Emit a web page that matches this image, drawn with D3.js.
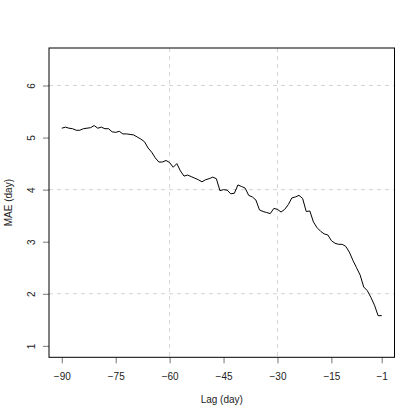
<!DOCTYPE html>
<html><head><meta charset="utf-8">
<script src="https://cdn.jsdelivr.net/npm/d3@7"></script>
<style>body{margin:0;background:#fff}svg{display:block}text{font-family:"Liberation Sans",Arial,sans-serif}</style>
</head><body><svg id="c" width="419" height="419"></svg>
<script>
const lags = d3.range(-90, 0);
const mae = [5.18,5.20,5.18,5.17,5.14,5.14,5.17,5.18,5.19,5.23,
5.18,5.20,5.17,5.17,5.11,5.10,5.12,5.07,5.07,5.06,
5.05,5.01,4.97,4.92,4.80,4.72,4.61,4.53,4.53,4.56,
4.52,4.43,4.50,4.36,4.26,4.28,4.25,4.22,4.19,4.15,
4.19,4.21,4.24,4.21,3.98,4.00,3.99,3.92,3.93,4.09,
4.06,4.03,3.89,3.86,3.80,3.61,3.58,3.56,3.54,3.64,
3.62,3.57,3.62,3.71,3.84,3.86,3.89,3.83,3.58,3.59,
3.38,3.27,3.20,3.15,3.13,3.02,2.97,2.95,2.95,2.91,
2.80,2.64,2.50,2.36,2.13,2.06,1.93,1.78,1.58,1.58];
const xTicks = [-90,-75,-60,-45,-30,-15,-1];
const yTicks = [1,2,3,4,5,6];
const xGrid = [-60,-30];
const yGrid = [2,4,6];
const xLabel = "Lag (day)", yLabel = "MAE (day)";

const L=49, R=394.5, T=48, B=357.3;
const x = d3.scaleLinear().domain([-90-89*0.04, -1+89*0.04]).range([L,R]);
const y = d3.scaleLinear().domain([1-5.5*0.04, 6.5+5.5*0.04]).range([B,T]);
const svg = d3.select("#c");

svg.append("g").selectAll("line").data(xGrid).join("line")
  .attr("x1",d=>x(d)).attr("x2",d=>x(d)).attr("y1",T).attr("y2",B)
  .attr("stroke","#d3d3d3").attr("stroke-dasharray","4,4");
svg.append("g").selectAll("line").data(yGrid).join("line")
  .attr("y1",d=>y(d)).attr("y2",d=>y(d)).attr("x1",L).attr("x2",R)
  .attr("stroke","#d3d3d3").attr("stroke-dasharray","4,4");

const fmt = d => String(d).replace("-", "\u2212");
const xa = d3.axisBottom(x).tickValues(xTicks).tickSize(6).tickPadding(10).tickFormat(fmt);
const gx = svg.append("g").attr("transform",`translate(0,${B})`).call(xa);
gx.select(".domain").remove();
gx.selectAll(".tick line").attr("stroke","#777");
gx.selectAll("text").attr("font-size",10).attr("fill","#222").attr("font-family","Liberation Sans, Arial, sans-serif");

const ya = d3.axisLeft(y).tickValues(yTicks).tickSize(6).tickFormat(d3.format("d"));
const gy = svg.append("g").attr("transform",`translate(${L},0)`).call(ya);
gy.select(".domain").remove();
gy.selectAll(".tick line").attr("stroke","#777");
gy.selectAll(".tick text").attr("font-size",10).attr("fill","#222")
  .attr("font-family","Liberation Sans, Arial, sans-serif")
  .attr("x",null).attr("dy",null)
  .attr("text-anchor","middle")
  .attr("transform","translate(-18,0) rotate(-90)")
  .attr("dominant-baseline","central");

svg.append("path").datum(lags.map((d,i)=>[d,mae[i]]))
  .attr("fill","none").attr("stroke","#000").attr("stroke-width",1)
  .attr("d", d3.line().x(d=>x(d[0])).y(d=>y(d[1])));

svg.append("rect").attr("x",L).attr("y",T).attr("width",R-L).attr("height",B-T)
  .attr("fill","none").attr("stroke","#000").attr("stroke-width",1);

svg.append("text").attr("x",(L+R)/2).attr("y",403).attr("text-anchor","middle")
  .attr("font-size",10).attr("fill","#222").text(xLabel);
svg.append("text").attr("transform",`translate(11.5,${(T+B)/2}) rotate(-90)`)
  .attr("text-anchor","middle").attr("font-size",10).attr("fill","#222").text(yLabel);
</script></body></html>
